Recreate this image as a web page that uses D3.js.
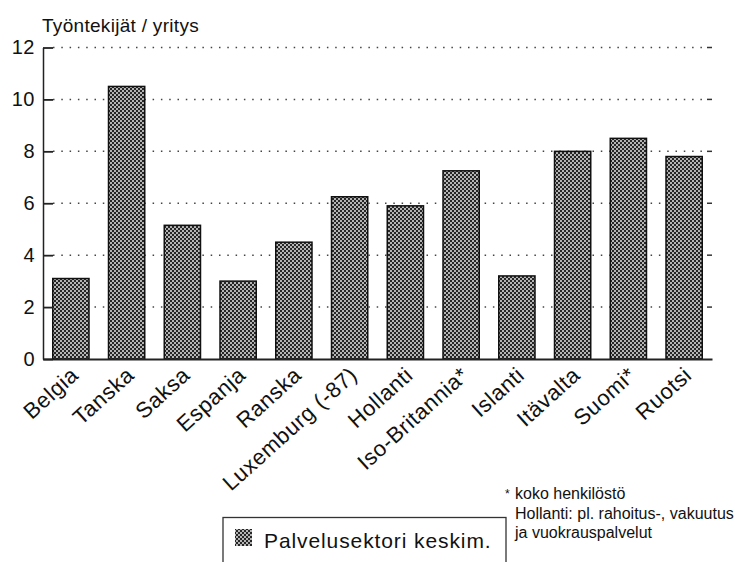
<!DOCTYPE html>
<html>
<head>
  <meta charset="utf-8">
  <script src="https://cdn.jsdelivr.net/npm/d3@7"></script>
  <style>
    body { margin: 0; background: #fff; }
    svg { display: block; font-family: "Liberation Sans", Arial, sans-serif; }
  </style>
</head>
<body>
  <svg width="735" height="562"></svg>
<script>
  // data
  const countries = ['Belgia', 'Tanska', 'Saksa', 'Espanja', 'Ranska', 'Luxemburg (-87)',
    'Hollanti', 'Iso-Britannia*', 'Islanti', 'Itävalta', 'Suomi*', 'Ruotsi'];
  const workers = [3.1, 10.5, 5.15, 3.0, 4.5, 6.25, 5.9, 7.25, 3.2, 8.0, 8.5, 7.8];
  const yTicks = [0, 2, 4, 6, 8, 10, 12];
  const yTitle = 'Työntekijät / yritys';
  const legendLabel = 'Palvelusektori keskim.';
  const notes = ['koko henkilöstö', 'Hollanti: pl. rahoitus-, vakuutus', 'ja vuokrauspalvelut'];

  const rows = countries.map((c, i) => ({ country: c, value: workers[i] }));

  const plotLeft = 43, plotRight = 712, plotTop = 47.5, plotBottom = 359;

  const svg = d3.select('svg');

  // checkered fill like the print
  const pat = svg.append('defs').append('pattern')
    .attr('id', 'checks')
    .attr('width', 4)
    .attr('height', 4)
    .attr('patternUnits', 'userSpaceOnUse');
  pat.append('rect').attr('width', 4).attr('height', 4).attr('fill', '#262626');
  pat.append('circle').attr('cx', 1).attr('cy', 1).attr('r', 0.95).attr('fill', '#f2f2f2');
  pat.append('circle').attr('cx', 3).attr('cy', 3).attr('r', 0.95).attr('fill', '#f2f2f2');

  const x = d3.scaleBand()
    .domain(countries)
    .range([plotLeft, plotRight])
    .paddingInner(0.35)
    .paddingOuter(0.175);

  const y = d3.scaleLinear()
    .domain([0, 12])
    .range([plotBottom, plotTop]);

  // dotted grid
  svg.append('g')
    .selectAll('line')
    .data(yTicks.filter(d => d > 0))
    .enter()
    .append('line')
    .attr('x1', plotLeft + 10)
    .attr('x2', plotRight - 5)
    .attr('y1', d => y(d))
    .attr('y2', d => y(d))
    .attr('stroke', '#444')
    .attr('stroke-width', 1.5)
    .attr('stroke-dasharray', '1.5 6.8');

  // small ticks on the right end
  svg.append('g')
    .selectAll('line')
    .data(yTicks.filter(d => d > 0))
    .enter()
    .append('line')
    .attr('x1', plotRight - 5)
    .attr('x2', plotRight)
    .attr('y1', d => y(d))
    .attr('y2', d => y(d))
    .attr('stroke', '#333')
    .attr('stroke-width', 1.5);

  // bars
  svg.append('g')
    .selectAll('rect')
    .data(rows)
    .enter()
    .append('rect')
    .attr('x', d => x(d.country))
    .attr('y', d => y(d.value))
    .attr('width', x.bandwidth())
    .attr('height', d => plotBottom - y(d.value))
    .attr('fill', 'url(#checks)')
    .attr('stroke', '#111')
    .attr('stroke-width', 1.5);

  // y axis
  const yAxis = svg.append('g')
    .attr('transform', `translate(${plotLeft},0)`)
    .call(d3.axisLeft(y).tickValues(yTicks).tickSizeInner(-10).tickSizeOuter(0).tickPadding(8));
  yAxis.select('.domain').attr('stroke', '#222').attr('stroke-width', 1.5);
  yAxis.selectAll('.tick line').attr('stroke', '#222').attr('stroke-width', 1.8);
  yAxis.selectAll('.tick text')
    .attr('fill', '#111')
    .style('font-size', '20px')
    .style('letter-spacing', '0.5px')
    .style('font-family', '"Liberation Sans", Arial, sans-serif');

  // x axis
  const xAxis = svg.append('g')
    .attr('transform', `translate(0,${plotBottom})`)
    .call(d3.axisBottom(x).tickSize(0).tickSizeOuter(0));
  xAxis.select('.domain').attr('stroke', '#222').attr('stroke-width', 2);
  xAxis.selectAll('.tick text')
    .attr('fill', '#111')
    .attr('x', 0)
    .attr('y', 0)
    .attr('dy', 0)
    .attr('text-anchor', 'end')
    .attr('transform', 'translate(9,18) rotate(-42)')
    .style('font-size', '22px')
    .style('letter-spacing', '0.6px')
    .style('font-family', '"Liberation Sans", Arial, sans-serif');

  // y title
  svg.append('text')
    .attr('x', 42)
    .attr('y', 32)
    .attr('fill', '#111')
    .style('font-size', '19px')
    .style('letter-spacing', '0.3px')
    .text(yTitle);

  // legend
  svg.append('rect')
    .attr('x', 223)
    .attr('y', 517.5)
    .attr('width', 283)
    .attr('height', 70)
    .attr('fill', 'none')
    .attr('stroke', '#333')
    .attr('stroke-width', 1.3);
  svg.append('rect')
    .attr('x', 235)
    .attr('y', 529)
    .attr('width', 17)
    .attr('height', 17)
    .attr('fill', 'url(#checks)');
  svg.append('text')
    .attr('x', 264)
    .attr('y', 548)
    .attr('fill', '#111')
    .style('font-size', '21px')
    .style('letter-spacing', '0.9px')
    .text(legendLabel);

  // footnotes
  svg.append('text')
    .attr('x', 505)
    .attr('y', 498)
    .attr('fill', '#111')
    .style('font-size', '12px')
    .text('*');
  svg.append('g')
    .selectAll('text')
    .data(notes)
    .enter()
    .append('text')
    .attr('x', 515)
    .attr('y', (d, i) => 499 + i * 19.5)
    .attr('fill', '#111')
    .style('font-size', '16px')
    .text(d => d);
</script>
</body>
</html>
